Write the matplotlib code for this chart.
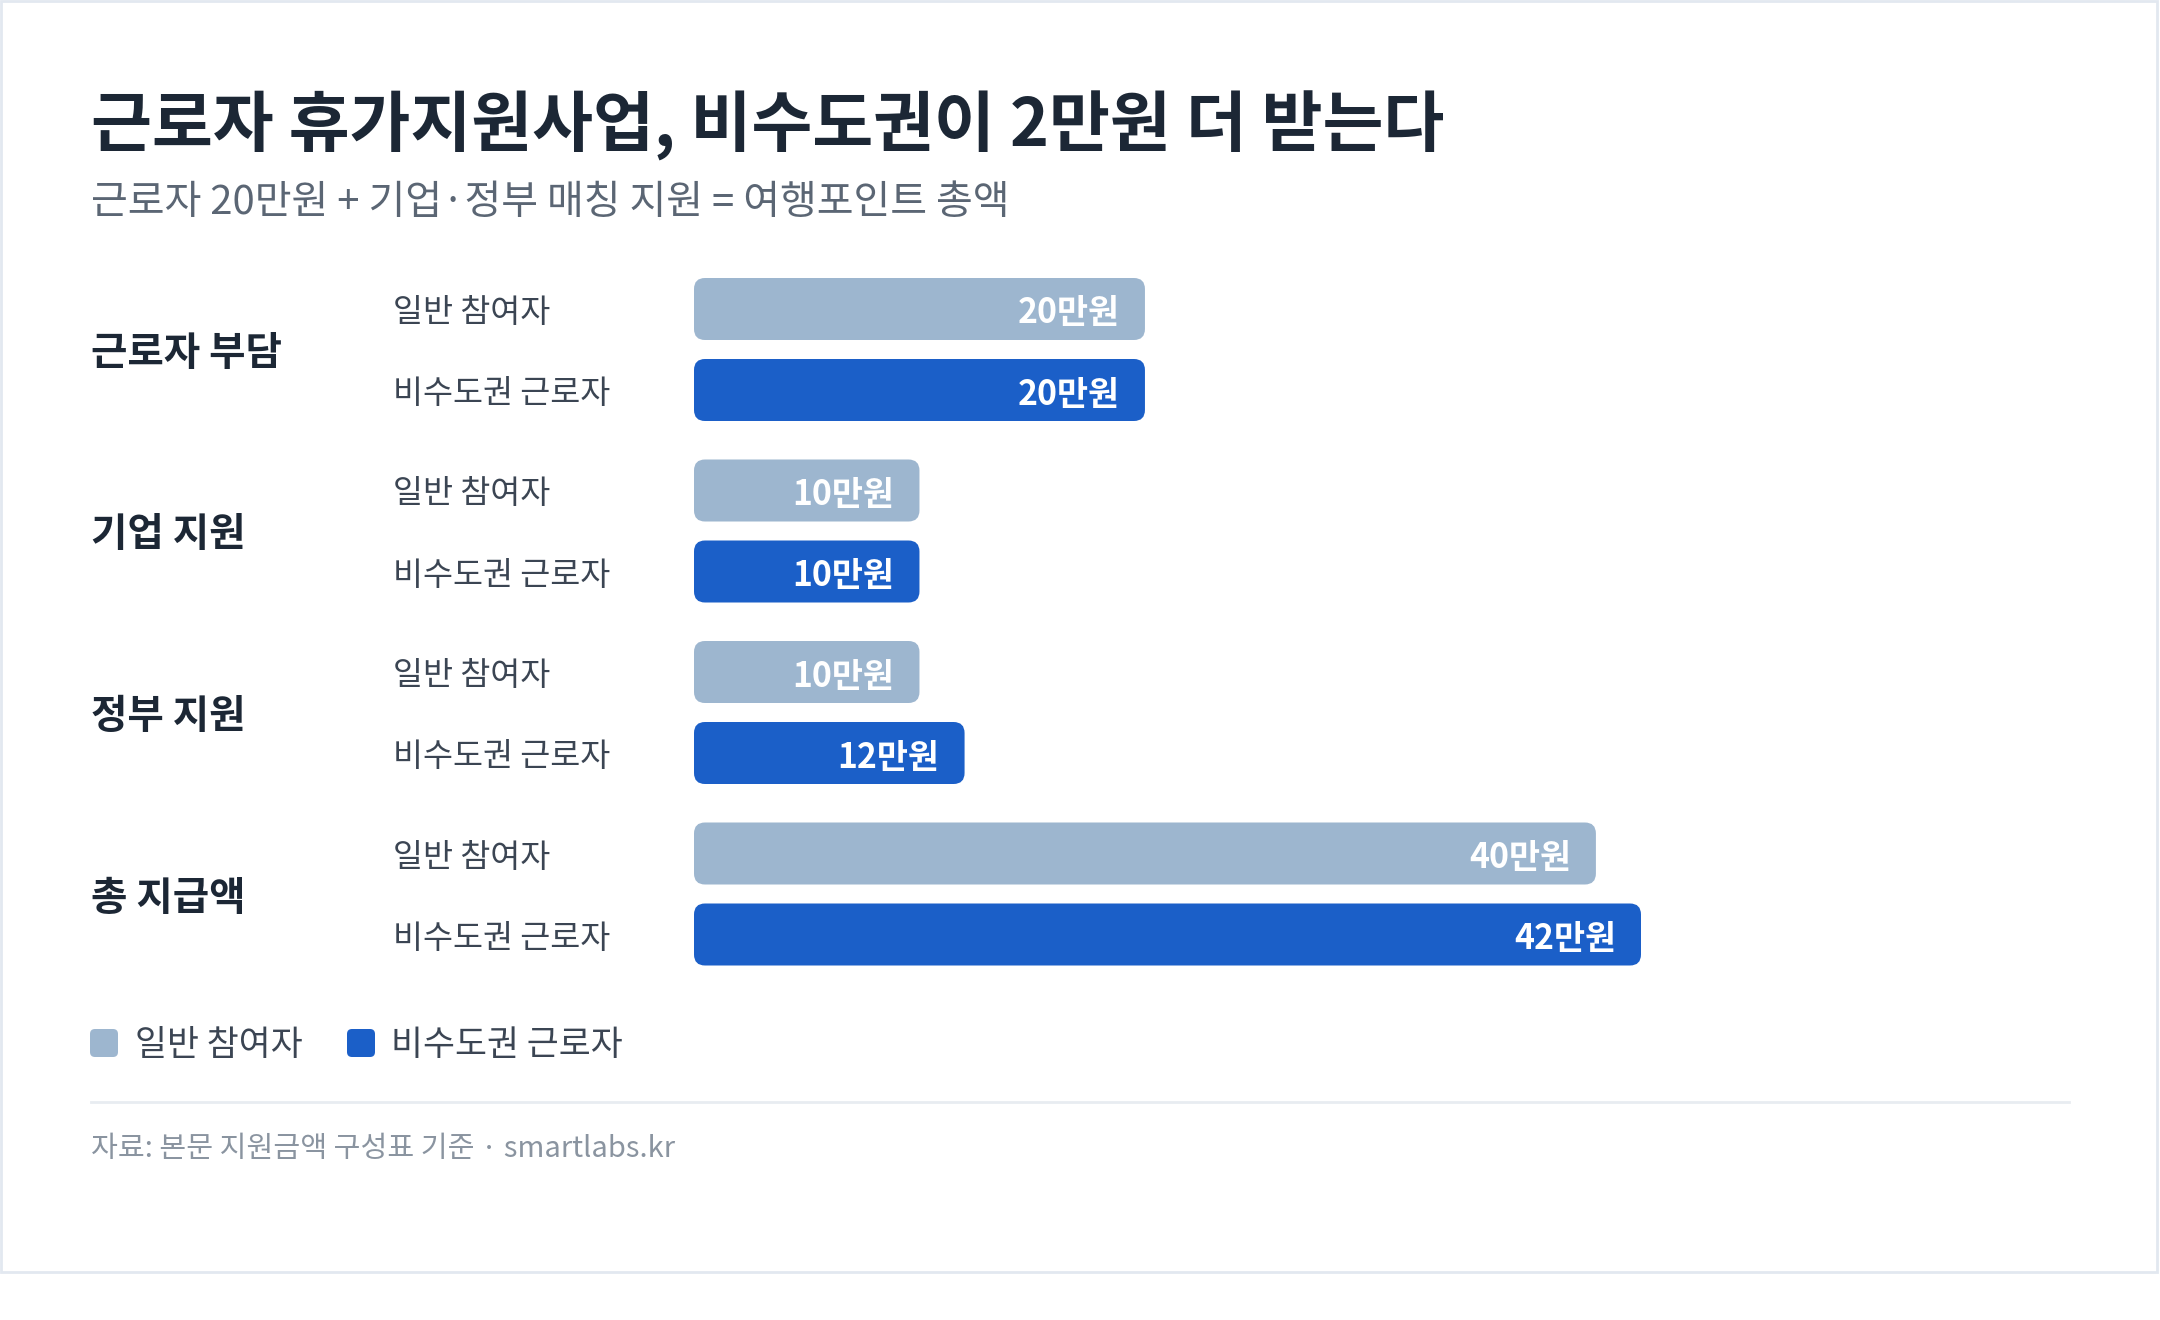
#!/usr/bin/env python
# -*- coding: utf-8 -*-
"""
근로자 휴가지원사업 지원금 구성 (horizontal grouped bars)
"""

import matplotlib
matplotlib.use("Agg")
import matplotlib.pyplot as plt
from matplotlib.patches import FancyBboxPatch, Rectangle
from matplotlib.transforms import blended_transform_factory, offset_copy

plt.rcParams['font.family'] = ['Noto Sans CJK KR', 'DejaVu Sans']

# data
title = "근로자 휴가지원사업, 비수도권이 2만원 더 받는다"
subtitle = "근로자 20만원 + 기업·정부 매칭 지원 = 여행포인트 총액"
source = "자료: 본문 지원금액 구성표 기준 · smartlabs.kr"
groups = ["근로자 부담", "기업 지원", "정부 지원", "총 지급액"]
series = ["일반 참여자", "비수도권 근로자"]
general = [20, 10, 10, 40]
noncapital = [20, 10, 12, 42]
unit = "만원"

# style
colors = ["#9db6cf", "#1b5fc8"]
dark = "#1c2735"
label_col = "#3b4553"
W, H = 2160, 1320

fig = plt.figure(figsize=(W / 100, H / 100), dpi=100)
fig.patch.set_facecolor("white")

# background layer in pixel coords
bg = fig.add_axes([0, 0, 1, 1])
bg.set_xlim(0, W)
bg.set_ylim(H, 0)
bg.axis("off")
bg.add_patch(Rectangle((1, 1), W - 4, 1271, facecolor="white",
                       edgecolor="#e2e8f0", lw=2))

bg.text(91, 126, title, fontsize=47.7, weight="bold", color=dark, va="center")
bg.text(91, 203, subtitle, fontsize=28.8, color="#5b6674", va="center")

# bar area
x0_px, x1_px = 694, 1641
top_px, bot_px = 260, 990
row_px = 81.0
group_pitch = 181.5 / row_px
bar_h = 62 / row_px
ax = fig.add_axes([x0_px / W, (H - bot_px) / H,
                   (x1_px - x0_px) / W, (bot_px - top_px) / H])
vmax = max(general + noncapital)
ax.set_xlim(0, vmax)
first_px = 309
ax.set_ylim((bot_px - first_px) / row_px, (top_px - first_px) / row_px)
ax.axis("off")

# rounded corners, same radius in x and y
sx = (x1_px - x0_px) / vmax
radius = 11
aspect = sx / row_px

label_tf = offset_copy(ax.transData, fig=fig, x=-25, y=-4, units="dots")
row_tf = offset_copy(blended_transform_factory(bg.transData, ax.transData),
                     fig=fig, x=0, y=-4, units="dots")

for g, name in enumerate(groups):
    base = g * group_pitch
    ax.text(91, base + 0.5, name, transform=row_tf, fontsize=28.5,
            weight="bold", color=dark, va="center")
    for r, vals in enumerate([general, noncapital]):
        y = base + r
        v = vals[g]
        ax.add_patch(FancyBboxPatch(
            (0, y - bar_h / 2), v, bar_h,
            boxstyle=f"round,pad=0,rounding_size={radius / sx}",
            mutation_aspect=aspect, facecolor=colors[r], edgecolor="none"))
        ax.text(v, y, f"{v}{unit}", transform=label_tf, ha="right",
                va="center", fontsize=24.3, weight="bold", color="white")
        ax.text(393, y, series[r], transform=row_tf, fontsize=23.5,
                color=label_col, va="center")

# legend
for (sq_x, tx_x), name, c in zip([(90, 135), (347, 391)], series, colors):
    bg.add_patch(FancyBboxPatch((sq_x, 1029), 28, 28,
                                boxstyle="round,pad=0,rounding_size=5",
                                facecolor=c, edgecolor="none"))
    bg.text(tx_x, 1045, name, fontsize=25, color=label_col, va="center")

# footer
bg.plot([91, 2069], [1102, 1102], color="#e8ecf1", lw=2)
bg.text(91, 1149, source, fontsize=21, color="#8a94a0", va="center")

fig.savefig("out.png", dpi=100, facecolor="white")
